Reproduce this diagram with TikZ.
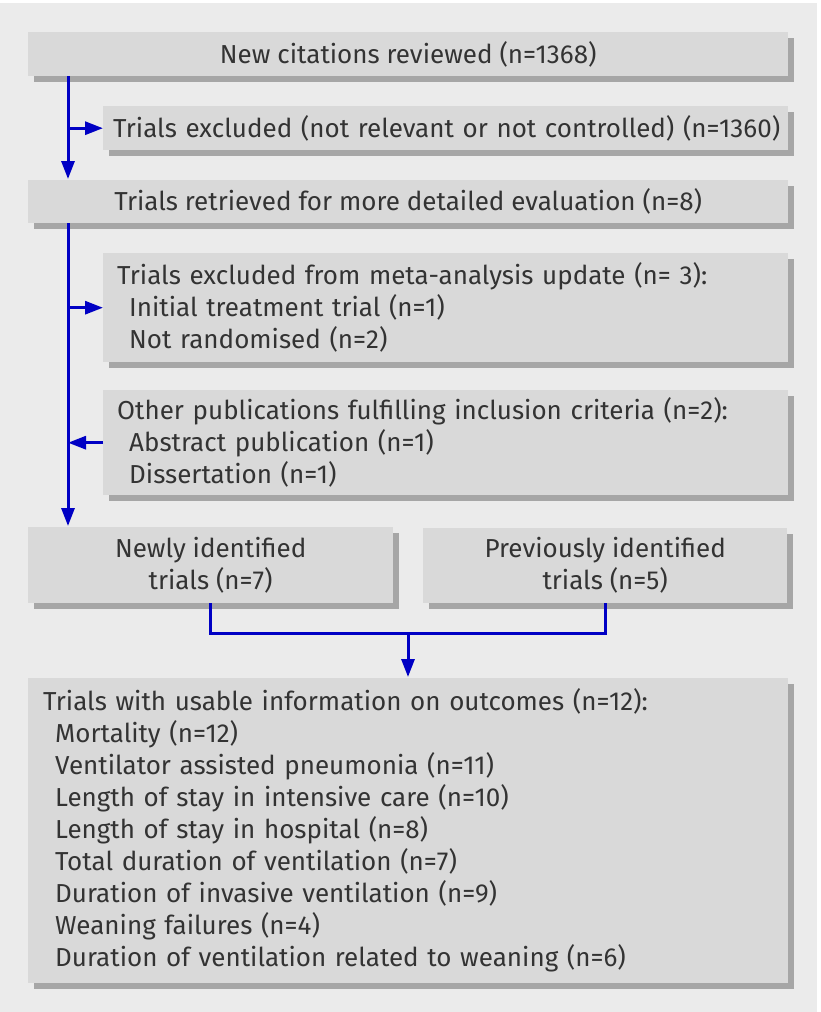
\documentclass[tikz,border=0pt]{standalone}
\usepackage{fontspec}
\setmainfont{Fira Sans}
\usetikzlibrary{shadows,arrows.meta}
\definecolor{bggray}{HTML}{EBEBEB}
\definecolor{boxgray}{HTML}{D9D9D9}
\definecolor{shadowgray}{HTML}{A6A6A6}
\definecolor{textgray}{HTML}{333333}
\definecolor{flowblue}{HTML}{0000C4}
\begin{document}
\begin{tikzpicture}[x=1pt,y=-1pt,line cap=butt,line join=miter,
    font=\fontsize{26}{32}\selectfont,
    box/.style={fill=boxgray,text=textgray,inner ysep=0pt,anchor=north west,
      drop shadow={shadow xshift=6pt,shadow yshift=-6pt,fill=shadowgray,opacity=1}},
    flow/.style={draw=flowblue,line width=3pt},
    tip/.style={-{Triangle[length=18pt,width=13pt]}}]
  \useasboundingbox (0,0) rectangle (820,1012);
  \fill[bggray] (0,3) rectangle (817,1012);
  % boxes
  \node[box,minimum width=760pt,minimum height=44pt] (new) at (28,32) {New citations reviewed (n=1368)};
  \node[box,text width=665pt,inner xsep=10pt,align=left,minimum height=44pt] (excl) at (103,106)
    {\mbox{Trials excluded (not relevant or not controlled) (n=1360)}};
  \node[box,minimum width=760pt,minimum height=43pt] (retr) at (28,180) {Trials retrieved for more detailed evaluation (n=8)};
  \node[box,text width=657pt,inner xsep=14pt,align=left,minimum height=109pt] (meta) at (103,253)
    {Trials excluded from meta-analysis update (n= 3):\\
     \hspace*{12pt}Initial treatment trial (n=1)\\
     \hspace*{12pt}Not randomised (n=2)};
  \node[box,text width=657pt,inner xsep=14pt,align=left,minimum height=105pt] (other) at (103,390)
    {Other publications fulfilling inclusion criteria (n=2):\\
     \hspace*{12pt}Abstract publication (n=1)\\
     \hspace*{12pt}Dissertation (n=1)};
  \node[box,minimum width=365pt,minimum height=76pt,align=center] (newly) at (28,527)
    {Newly identified\\trials (n=7)};
  \node[box,minimum width=364pt,minimum height=75pt,align=center] (prev) at (423,528)
    {Previously identified\\trials (n=5)};
  \node[box,text width=730pt,inner xsep=15pt,align=left,minimum height=305pt] (usable) at (28,678)
    {Trials with usable information on outcomes (n=12):\\
     \hspace*{12pt}Mortality (n=12)\\
     \hspace*{12pt}Ventilator assisted pneumonia (n=11)\\
     \hspace*{12pt}Length of stay in intensive care (n=10)\\
     \hspace*{12pt}Length of stay in hospital (n=8)\\
     \hspace*{12pt}Total duration of ventilation (n=7)\\
     \hspace*{12pt}Duration of invasive ventilation (n=9)\\
     \hspace*{12pt}Weaning failures (n=4)\\
     \hspace*{12pt}Duration of ventilation related to weaning (n=6)};
  % connectors
  \coordinate (spine) at (68,0);
  \coordinate (join) at (408,633);
  \draw[flow,tip] (new.south -| spine) -- ([yshift=1pt]retr.north -| spine);
  \draw[flow,tip] (spine |- excl.west) -- (excl.west);
  \draw[flow,tip] (retr.south -| spine) -- ([yshift=1pt]newly.north -| spine);
  \draw[flow,tip] (spine |- meta.west) -- (meta.west);
  \draw[flow,tip] (other.west) -- (spine |- other.west);
  \draw[flow] (newly.south) |- (join) -| (prev.south);
  \draw[flow,tip] (join) -- ([yshift=1pt]usable.north -| join);
\end{tikzpicture}
\end{document}
